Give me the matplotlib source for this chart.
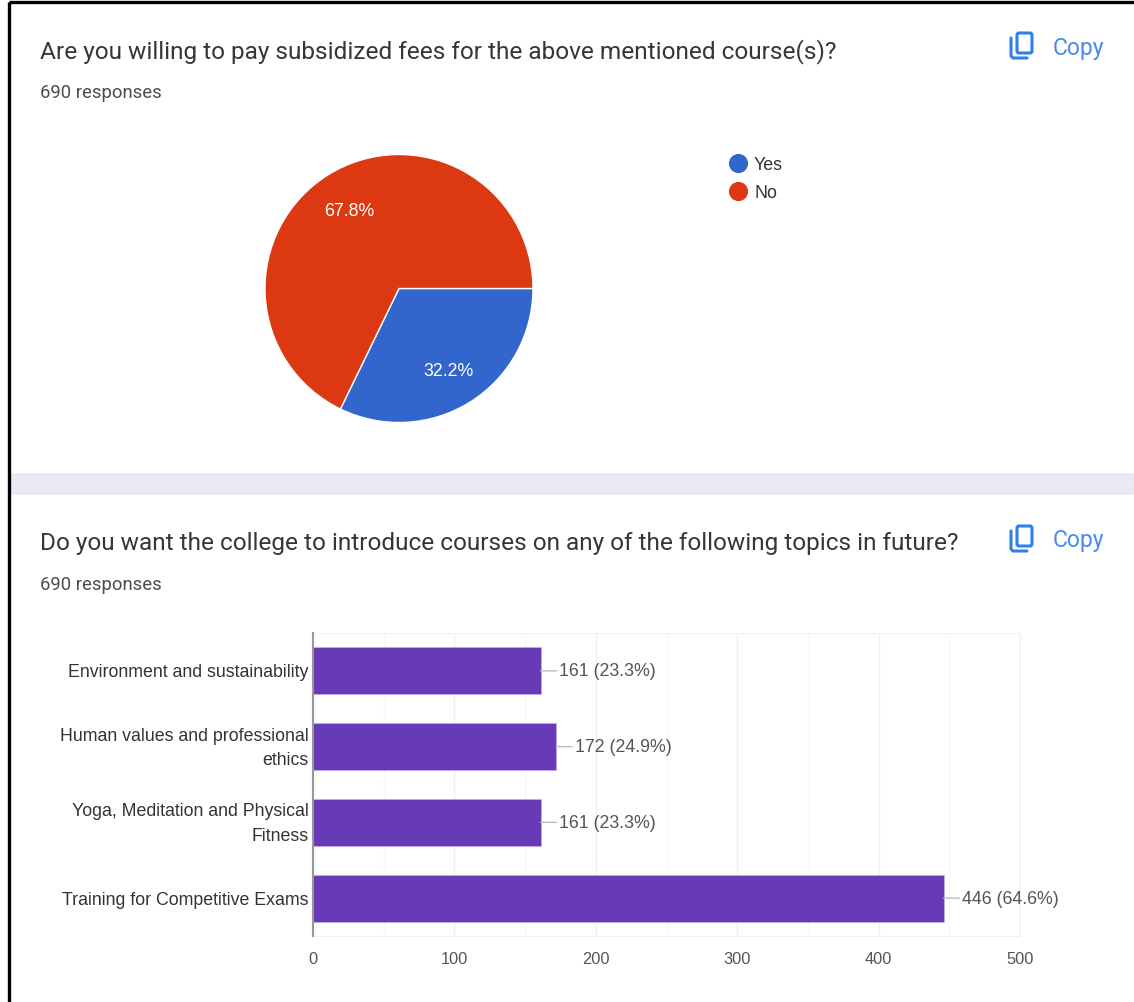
import matplotlib
matplotlib.use('Agg')
import matplotlib.pyplot as plt
from matplotlib.patches import Rectangle, FancyBboxPatch
from matplotlib.transforms import ScaledTranslation

W, H = 1134, 1003

pie_labels = ['Yes', 'No']
pie_values = [32.2, 67.8]
pie_colors = ['#3366cc', '#dc3912']

topics = ['Environment and sustainability',
          'Human values and professional\nethics',
          'Yoga, Meditation and Physical\nFitness',
          'Training for Competitive Exams']
counts = [161, 172, 161, 446]
percents = [23.3, 24.9, 23.3, 64.6]
x_ticks = [0, 100, 200, 300, 400, 500]
x_minor = [50, 150, 250, 350, 450]

title1 = 'Are you willing to pay subsidized fees for the above mentioned course(s)?'
title2 = 'Do you want the college to introduce courses on any of the following topics in future?'
responses = '690 responses'


def px_axes(fig, left, top, right, bottom):
    return fig.add_axes([left / W, 1 - bottom / H, (right - left) / W, (bottom - top) / H])


def copy_button(ax, y):
    blue = '#2f80ed'
    ax.add_patch(FancyBboxPatch((1017, y - 14), 15, 20, boxstyle='round,pad=0,rounding_size=2',
                                fc='none', ec=blue, lw=2.2))
    ax.plot([1011, 1011, 1013, 1027], [y - 9, y + 9, y + 11, y + 11], color=blue, lw=2.2,
            solid_capstyle='round')
    ax.text(1053, y, 'Copy', color='#4a8af0', fontsize=16.5, family='Roboto',
            va='center', ha='left')


fig = plt.figure(figsize=(W / 100, H / 100), dpi=100, facecolor='white')

# page furniture in pixel coordinates
bg = fig.add_axes([0, 0, 1, 1])
bg.set_xlim(0, W)
bg.set_ylim(H, 0)
bg.axis('off')
bg.add_patch(Rectangle((10, 475), W - 10, 19, fc='#ebe9f6', ec='#e2e1ea', lw=1))
bg.add_patch(Rectangle((0, 0), 9, H, fc='white', ec='none'))
bg.plot([9, 9], [3, H], color='black', lw=2.4, solid_capstyle='butt')
bg.plot([9, W], [3, 3], color='black', lw=2.4, solid_capstyle='butt')

for txt, y in [(title1, 51.5), (title2, 543.5)]:
    bg.text(40, y, txt, fontsize=17.6, family='Roboto', color='#33373b', va='center', ha='left')
for y in [92.5, 584.5]:
    bg.text(40, y, responses, fontsize=13.3, family='Roboto', color='#4a4e52', va='center', ha='left')
copy_button(bg, 48)
copy_button(bg, 541)

# legend of the pie
for lab, col, y in zip(pie_labels, pie_colors, [164, 192]):
    bg.scatter([738], [y], s=190, color=col, linewidths=0)
    bg.text(754, y + 1, lab, fontsize=12.8, family='Liberation Sans', color='#333333', va='center')

# pie
ax1 = px_axes(fig, 265, 155.5, 533, 423.5)
wedges, texts, autotexts = ax1.pie(pie_values, colors=pie_colors, startangle=0, counterclock=False,
                                   radius=1, autopct='%.1f%%', pctdistance=0.7,
                                   wedgeprops={'edgecolor': 'white', 'linewidth': 1})
for t in autotexts:
    t.set_color('white')
    t.set_fontsize(12.8)
    t.set_family('Liberation Sans')
    t.set_transform(t.get_transform() + ScaledTranslation(0, -2 / 100, fig.dpi_scale_trans))
ax1.set_xlim(-1, 1)
ax1.set_ylim(-1, 1)

# bars
ax2 = px_axes(fig, 313, 634, 1020, 937)
ax2.barh(range(len(topics)), counts, height=0.62, color='#673ab7', edgecolor='#c5b5e3', linewidth=0.4, zorder=3)
ax2.set_xlim(0, 500)
ax2.set_ylim(len(topics) - 0.5, -0.5)
ax2.set_xticks(x_ticks)
ax2.set_xticks(x_minor, minor=True)
ax2.set_yticks(range(len(topics)))
ax2.set_yticklabels(topics, fontsize=12.8, family='Liberation Sans', color='#333333', linespacing=1.55)
ax2.set_xticklabels(x_ticks, fontsize=11.8, family='Liberation Sans', color='#555555')
ax2.grid(axis='x', which='major', color='#f0f0f0', lw=1, zorder=0)
ax2.grid(axis='x', which='minor', color='#f8f8f8', lw=1, zorder=0)
ax2.tick_params(axis='both', which='both', length=0)
ax2.tick_params(axis='y', pad=3)
ax2.tick_params(axis='x', pad=11)
for side in ['top', 'right', 'bottom']:
    ax2.spines[side].set_color('#f2f2f2')
ax2.spines['left'].set_color('#999999')
ax2.spines['left'].set_linewidth(1.5)
ax2.spines['left'].set_zorder(5)

# two line labels sit too low otherwise
for lab in ax2.get_yticklabels():
    up = 5 if '\n' in lab.get_text() else 1
    lab.set_transform(lab.get_transform() + ScaledTranslation(0, up / 100, fig.dpi_scale_trans))

for i, (c, p) in enumerate(zip(counts, percents)):
    ax2.annotate(f'{c} ({p}%)', xy=(c, i), xytext=(13.5, 0), textcoords='offset points',
                 fontsize=12.8, family='Liberation Sans', color='#555555', va='center', ha='left',
                 annotation_clip=False,
                 arrowprops={'arrowstyle': '-', 'color': '#bbbbbb', 'lw': 1, 'shrinkA': 0, 'shrinkB': 0})

fig.savefig('out.png', dpi=100)
